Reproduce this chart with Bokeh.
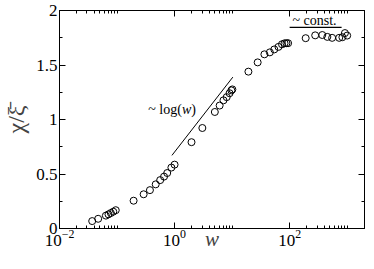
from bokeh.plotting import figure
from bokeh.models import (Range1d, FixedTicker, LogAxis, LinearAxis, NumeralTickFormatter,
                          ColumnDataSource)
from bokeh.core.properties import value
from bokeh.embed import file_html
from bokeh.resources import INLINE

# ---- data ----
w = [0.037, 0.047, 0.064, 0.071, 0.078, 0.086, 0.095, 0.194, 0.29, 0.373, 0.47, 0.562,
     0.656, 0.745, 0.88, 1.0, 1.97, 3.04, 5.01, 6.07, 7.08, 8.05, 9.03, 9.7, 10.1,
     19.2, 27.8, 36.4, 45.3, 54.1, 63.9, 73.6, 81.5, 88, 94,
     190, 278, 369, 452, 548, 726, 826, 914, 1000]
chi = [0.068, 0.089, 0.118, 0.130, 0.142, 0.154, 0.168, 0.255, 0.314, 0.352, 0.405, 0.444,
       0.476, 0.509, 0.559, 0.586, 0.792, 0.922, 1.069, 1.128, 1.176, 1.205, 1.241, 1.267, 1.276,
       1.439, 1.524, 1.598, 1.616, 1.643, 1.666, 1.690, 1.699, 1.700, 1.700,
       1.746, 1.772, 1.775, 1.758, 1.749, 1.749, 1.755, 1.793, 1.770]

log_line_w = [0.9, 10.3]
log_line_y = [0.671, 1.389]
const_line_w = [100, 800]
const_line_y = [1.846, 1.846]

x_major = [0.01, 1, 100]
x_minor = [0.02, 0.03, 0.04, 0.05, 0.06, 0.07, 0.08, 0.09, 0.1,
           2, 3, 4, 5, 6, 7, 8, 9, 10,
           200, 300, 400, 500, 600, 700, 800, 900, 1000]
y_major = [0, 0.5, 1, 1.5, 2]
y_minor = [0.25, 0.75, 1.25, 1.75]

FONT = "Times New Roman, Liberation Serif, serif"

p = figure(width=366, height=253, x_axis_type="log",
           x_range=Range1d(0.01, 2000), y_range=Range1d(0, 2),
           output_backend="svg", toolbar_location=None,
           min_border_left=47, min_border_right=2, min_border_top=10, min_border_bottom=0)
p.grid.visible = False
p.outline_line_color = "black"
p.outline_line_width = 1
p.background_fill_color = "white"
p.border_fill_color = "white"

def style_axis(ax, labels=True):
    ax.major_tick_in = 6
    ax.major_tick_out = 0
    ax.minor_tick_in = 3
    ax.minor_tick_out = 0
    ax.axis_line_color = "black"
    ax.major_tick_line_color = "black"
    ax.minor_tick_line_color = "black"
    ax.major_label_text_font = FONT
    if labels:
        ax.major_label_text_color = "black"
        ax.major_label_text_font_size = "17px"
        ax.major_label_standoff = 2
    else:
        ax.major_label_text_color = None
        ax.major_label_text_font_size = "1px"
        ax.major_label_standoff = 0

xt = FixedTicker(ticks=x_major, minor_ticks=x_minor)
yt = FixedTicker(ticks=y_major, minor_ticks=y_minor)

xa = p.xaxis[0]
xa.ticker = xt
style_axis(xa)
xa.major_label_standoff = 1
xa.axis_label = "w"
xa.axis_label_text_font = FONT
xa.axis_label_text_font_style = "italic"
xa.axis_label_text_font_size = "21px"
xa.axis_label_standoff = -22

ya = p.yaxis[0]
ya.ticker = yt
ya.formatter = NumeralTickFormatter(format="0.[0]")
style_axis(ya)
ya.axis_label = "\u03c7/\u03be\u0304"
ya.axis_label_text_font = FONT
ya.axis_label_text_font_style = "normal"
ya.axis_label_text_font_size = "24px"
ya.axis_label_standoff = 4

top = LogAxis(ticker=FixedTicker(ticks=x_major, minor_ticks=x_minor))
style_axis(top, labels=False)
p.add_layout(top, "above")
right = LinearAxis(ticker=FixedTicker(ticks=y_major, minor_ticks=y_minor))
style_axis(right, labels=False)
p.add_layout(right, "right")

src = ColumnDataSource(dict(w=w, chi=chi))
p.scatter("w", "chi", source=src, marker="circle", size=7, fill_color=None,
          line_color="black", line_width=1)

p.line(log_line_w, log_line_y, line_color="black", line_width=1)
p.line(const_line_w, const_line_y, line_color="black", line_width=1.2)

p.text(x=[2.35], y=[1.09], text=["~ log("], text_font=value(FONT), text_font_size="14px",
       text_align="right", text_baseline="middle", x_offset=-14)
p.text(x=[2.35], y=[1.09], text=["w"], text_font=value(FONT), text_font_size="14px",
       text_font_style="italic", text_align="right", text_baseline="middle", x_offset=-4.5)
p.text(x=[2.35], y=[1.09], text=[")"], text_font=value(FONT), text_font_size="14px",
       text_align="right", text_baseline="middle")
p.text(x=[270], y=[1.91], text=["~ const."], text_font=value(FONT), text_font_size="14px",
       text_align="center", text_baseline="middle")

open("out.html", "w").write(file_html(p, INLINE))
